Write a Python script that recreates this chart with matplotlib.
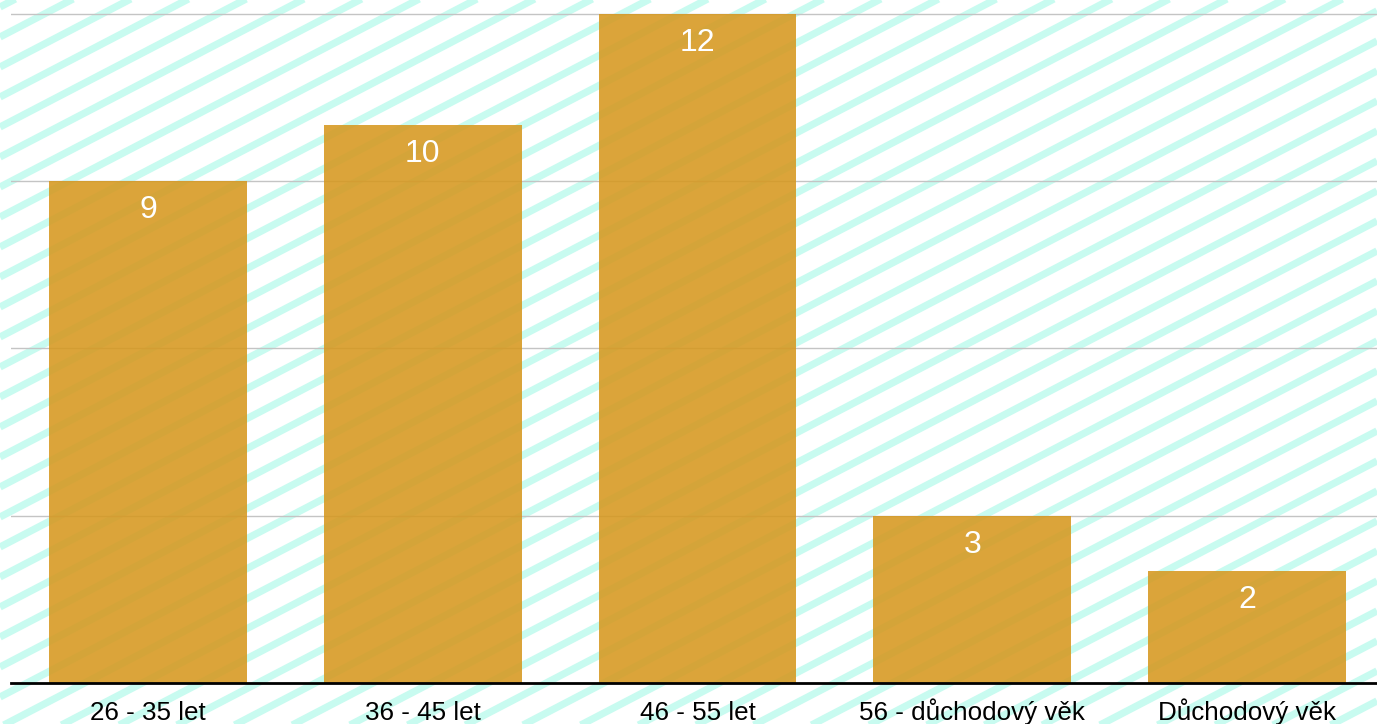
import matplotlib
matplotlib.use("Agg")
import matplotlib.pyplot as plt
import numpy as np

categories = ['26 - 35 let', '36 - 45 let', '46 - 55 let', '56 - důchodový věk', 'Důchodový věk']
counts = [9, 10, 12, 3, 2]
grid_ticks = [3, 6, 9, 12]

W, H = 1377, 724
fig = plt.figure(figsize=(W / 100, H / 100), dpi=100, facecolor='white')

# striped background over the whole figure
bg = fig.add_axes([0, 0, 1, 1])
bg.set_xlim(0, W)
bg.set_ylim(0, H)
bg.axis('off')
slope = 0.52
xs = np.array([0, W])
for k in range(-60, 30):
    bg.plot(xs, 687 + slope * xs + k * 30, color='#c8fbf0', lw=5.2, solid_capstyle='butt')

left = 10.5 / W
width = (1384.5 - 10.5) / W
bottom = 41 / H
ax = fig.add_axes([left, bottom, width, 1 - bottom])
ax.set_zorder(2)
ax.patch.set_visible(False)

x = np.arange(len(categories))
ax.bar(x, counts, width=0.72, color='#d6981f', alpha=0.88, zorder=3)
for xi, v in zip(x, counts):
    ax.annotate(str(v), (xi, v), xytext=(0, -26.5), textcoords='offset points',
                ha='center', va='baseline', color='white', fontsize=23,
                family='Liberation Sans', zorder=4)

ax.set_xlim(-0.5, 4.5)
ax.set_ylim(0, 12.25)
ax.set_yticks(grid_ticks)
ax.yaxis.grid(True, color='#c4c4c4', lw=1.0, zorder=1)
ax.tick_params(axis='y', left=False, labelleft=False)
ax.set_xticks(x)
ax.set_xticklabels(categories, fontsize=18.7, family='Liberation Sans', va='baseline')
ax.tick_params(axis='x', length=0, pad=26.3)
for s in ['top', 'right', 'left']:
    ax.spines[s].set_visible(False)
ax.spines['bottom'].set_linewidth(2)
ax.spines['bottom'].set_color('black')
ax.spines['bottom'].set_zorder(5)

fig.savefig('out.png', dpi=100)
